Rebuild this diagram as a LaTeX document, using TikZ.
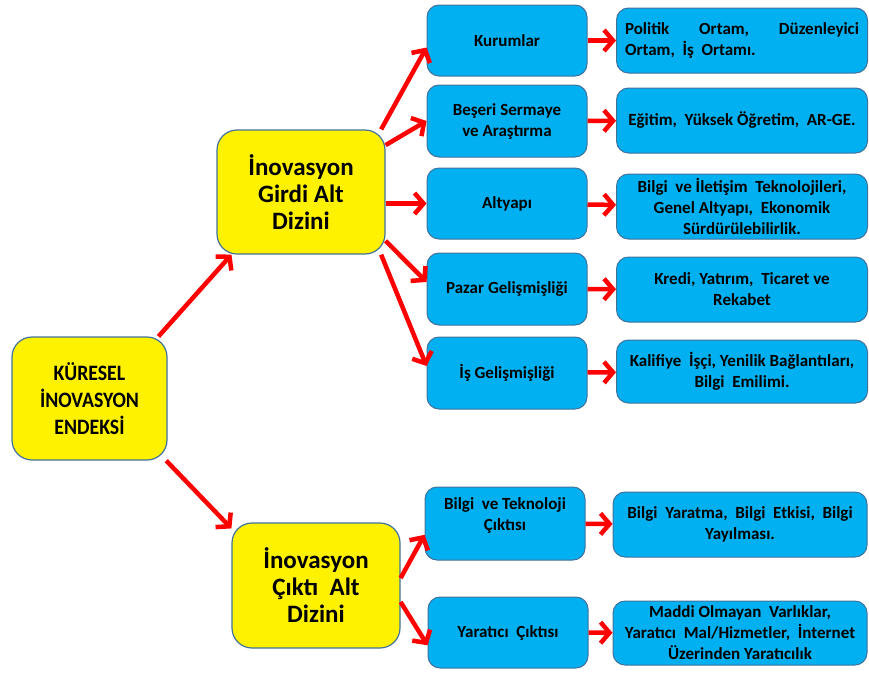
\documentclass[tikz,border=0pt]{standalone}
\usepackage{fontspec}
\setmainfont{Carlito}
\usepackage{tikz}
\usetikzlibrary{arrows.meta}
\definecolor{boxline}{RGB}{65,113,156}
\definecolor{boxblue}{RGB}{0,176,240}
\tikzset{
ybox/.style = {rectangle, rounded corners=20pt, draw=boxline, fill=yellow,
               line width=1.2pt, align=center, minimum width=#1,
               font=\bfseries\fontsize{25}{27}\selectfont},
ybox/.default = 160pt
}
\tikzset{
bbox/.style = {rectangle, rounded corners=12pt, draw=boxline, fill=boxblue,
               line width=1pt, align=center, minimum width=#1,
               font=\bfseries\fontsize{17}{21}\selectfont},
bbox/.default = 160pt % width of the middle boxes
}
\tikzset{
arr/.style = {-{Straight Barb[length=9pt,width=21pt]}, red, line width=4.5pt}
}

\begin{document}
\begin{tikzpicture}[x=1pt,y=-1pt]
    \useasboundingbox (0,0) rectangle (869,673);
    % main index and sub-indices
    \node[ybox=155pt, minimum height=123pt,
          font=\bfseries\addfontfeature{FakeStretch=0.9}\fontsize{22}{27}\selectfont]
          (index) at (89.5,398.5) {KÜRESEL\\İNOVASYON\\ENDEKSİ};
    \node[ybox=168pt, minimum height=124pt] (girdi) at (301,192) {İnovasyon\\Girdi Alt\\Dizini};
    \node[ybox=168pt, minimum height=125pt] (cikti) at (316,585.5) {İnovasyon\\Çıktı~ Alt\\Dizini};

    % pillars
    \node[bbox, minimum height=71pt] (kurum) at (507,40.5) {Kurumlar};
    \node[bbox, minimum height=72pt] (beseri) at (507,121) {Beşeri Sermaye\\ve Araştırma};
    \node[bbox, minimum height=71pt] (altyapi) at (507,203.5) {Altyapı};
    \node[bbox, minimum height=72pt] (pazar) at (507,289) {Pazar Gelişmişliği};
    \node[bbox, minimum height=72pt] (isgel) at (507,373) {İş Gelişmişliği};
    \node[bbox, minimum height=73pt] (bilgitek) at (505,523.5) {Bilgi~ ve Teknoloji\\Çıktısı\\[-9pt] \strut};
    \node[bbox, minimum height=71pt] (yaratici) at (508,632.5) {Yaratıcı~ Çıktısı};

    % sub-pillars
    \node[bbox=251pt, minimum height=65pt, align=left] (politik) at (742,40.5)
        {\parbox{234pt}{Politik\hfill Ortam,\hfill Düzenleyici\\Ortam,~ İş~ Ortamı.}};
    \node[bbox=251pt, minimum height=65pt] (egitim) at (742,120.5) {Eğitim,~ Yüksek Öğretim,~ AR-GE.};
    \node[bbox=251pt, minimum height=65pt] (bit) at (742,206.5) {Bilgi~ ve İletişim~ Teknolojileri,\\Genel Altyapı,~ Ekonomik\\Sürdürülebilirlik.};
    \node[bbox=251pt, minimum height=65pt] (kredi) at (742,289.5) {Kredi, Yatırım,~ Ticaret ve\\Rekabet};
    \node[bbox=251pt, minimum height=63pt] (kalifiye) at (742,371.5) {Kalifiye~ İşçi, Yenilik Bağlantıları,\\Bilgi~ Emilimi.};
    \node[bbox=254pt, minimum height=65pt] (bilgiyar) at (740,524.5) {Bilgi~ Yaratma,~ Bilgi~ Etkisi,~ Bilgi\\Yayılması.};
    \node[bbox=254pt, minimum height=64pt] (maddi) at (740,633) {Maddi Olmayan~ Varlıklar,\\Yaratıcı~ Mal/Hizmetler,~ İnternet\\Üzerinden Yaratıcılık};

    \draw[arr] (index.42) -- (girdi.222);
    \draw[arr] (index.-39) -- (cikti.146);

    \draw[arr] (girdi.38) -- (kurum.185);
    \draw[arr] (girdi.29) -- (beseri.west);
    \draw[arr] (altyapi.west -| girdi.east) -- (altyapi.west);
    \draw[arr] (girdi.-30) -- (pazar.175);
    \draw[arr] (girdi.-38) -- (isgel.175);

    \draw[arr] (cikti.5) -- (bilgitek.188);
    \draw[arr] (cikti.-11) -- (yaratici.189);

    \draw[arr] (kurum) -- (politik);
    \draw[arr] (beseri) -- (egitim);
    \draw[arr] (altyapi) -- (bit);
    \draw[arr] (pazar) -- (kredi);
    \draw[arr] (isgel) -- (kalifiye);
    \draw[arr] (bilgitek) -- (bilgiyar);
    \draw[arr] (yaratici) -- (maddi);
\end{tikzpicture}
\end{document}
